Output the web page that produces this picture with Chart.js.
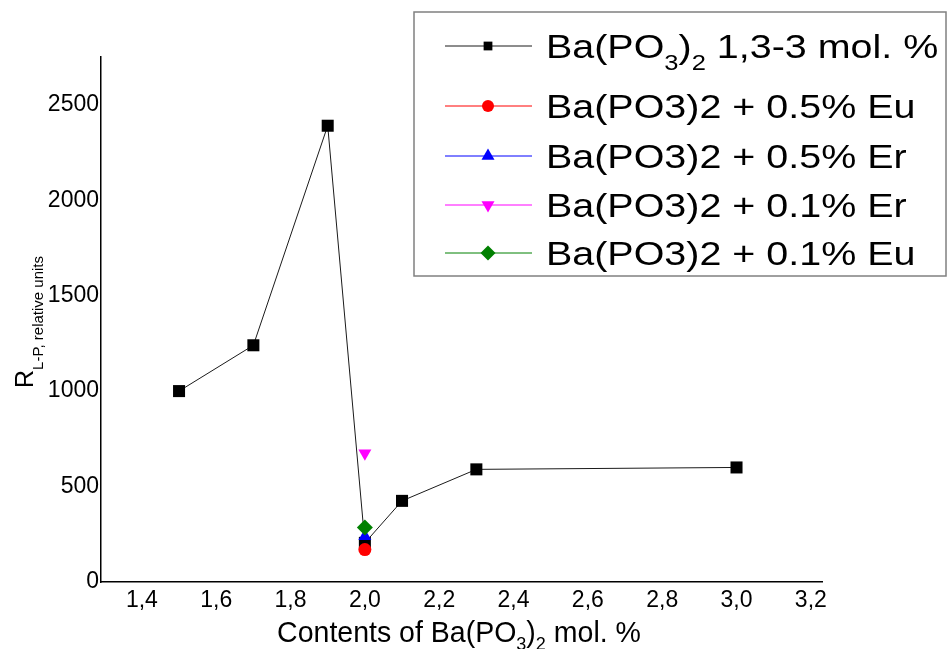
<!DOCTYPE html>
<html>
<head>
<meta charset="utf-8">
<script src="https://cdn.jsdelivr.net/npm/chart.js@4.4.1/dist/chart.umd.min.js"></script>
<style>html,body{margin:0;padding:0;background:#fff}</style>
</head>
<body>
<canvas id="chart" width="949" height="649"></canvas>
<script>
const xTicks = [1.4, 1.6, 1.8, 2.0, 2.2, 2.4, 2.6, 2.8, 3.0, 3.2];
const yTicks = [0, 500, 1000, 1500, 2000, 2500];

const baseX = [1.5, 1.7, 1.9, 2.0, 2.1, 2.3, 3.0];
const baseY = [1000, 1240, 2390, 205, 425, 590, 600];

const eu05 = [170];
const er05 = [240];
const er01 = [675];
const eu01 = [285];
const dopedX = 2.0;

const seriesLabels = [
    'Ba(PO_3)_2 1,3-3 mol. %',
    'Ba(PO3)2 + 0.5% Eu',
    'Ba(PO3)2 + 0.5% Er',
    'Ba(PO3)2 + 0.1% Er',
    'Ba(PO3)2 + 0.1% Eu'
];
const xTitle = 'Contents of Ba(PO_3)_2 mol. %';
const yTitle = 'R_{L-P, relative units}';

const FONT = '"Liberation Sans", Arial, sans-serif';

const markers = [
    { color: '#000000', style: 'rect', radius: 8.5, legendRadius: 6.2, rotation: 0 },
    { color: '#ff0000', style: 'circle', radius: 6.5, legendRadius: 6, rotation: 0 },
    { color: '#0000ff', style: 'triangle', radius: 7.5, legendRadius: 7.5, rotation: 0 },
    { color: '#ff00ff', style: 'triangle', radius: 7.5, legendRadius: 7.5, rotation: 180 },
    { color: '#008000', style: 'rectRot', radius: 8, legendRadius: 7.5, rotation: 0 }
];

function dataset(i, xs, ys, order) {
    const m = markers[i];
    return {
        label: seriesLabels[i],
        data: xs.map((x, k) => ({ x: x, y: ys[k] })),
        borderColor: i === 0 ? '#1a1a1a' : m.color,
        borderWidth: 1,
        backgroundColor: m.color,
        pointBackgroundColor: m.color,
        pointBorderColor: m.color,
        pointBorderWidth: 0,
        pointStyle: m.style,
        pointRadius: m.radius,
        pointRotation: m.rotation,
        showLine: true,
        order: order
    };
}

// split "Ba(PO_3)_2" style text into normal / subscript parts
function parseRich(text) {
    const parts = [];
    let i = 0;
    while (i < text.length) {
        if (text[i] === '_') {
            let sub;
            if (text[i + 1] === '{') {
                const end = text.indexOf('}', i);
                sub = text.slice(i + 2, end);
                i = end + 1;
            } else {
                sub = text[i + 1];
                i += 2;
            }
            parts.push({ t: sub, sub: true });
        } else {
            let j = i;
            while (j < text.length && text[j] !== '_') j++;
            parts.push({ t: text.slice(i, j), sub: false });
            i = j;
        }
    }
    return parts;
}

function richWidth(ctx, parts, size, subSize) {
    let w = 0;
    parts.forEach(p => {
        ctx.font = (p.sub ? subSize : size) + 'px ' + FONT;
        w += ctx.measureText(p.t).width;
    });
    return w;
}

// sx stretches the text horizontally
function drawRich(ctx, parts, x, y, size, subSize, subShift, sx) {
    ctx.save();
    ctx.translate(x, y);
    ctx.scale(sx || 1, 1);
    ctx.textBaseline = 'alphabetic';
    ctx.textAlign = 'left';
    let cx = 0;
    parts.forEach(p => {
        ctx.font = (p.sub ? subSize : size) + 'px ' + FONT;
        ctx.fillText(p.t, cx, p.sub ? subShift : 0);
        cx += ctx.measureText(p.t).width;
    });
    ctx.restore();
}

const decorPlugin = {
    id: 'decor',
    afterDraw(chart) {
        const ctx = chart.ctx;
        ctx.save();
        ctx.fillStyle = '#000';

        // x axis title
        const xp = parseRich(xTitle);
        const xs = 0.95;
        const xw = richWidth(ctx, xp, 30, 19) * xs;
        drawRich(ctx, xp, 459 - xw / 2, 642, 30, 19, 8, xs);

        // y axis title, rotated
        ctx.save();
        ctx.translate(33, 388);
        ctx.rotate(-Math.PI / 2);
        drawRich(ctx, parseRich(yTitle), 0, 0, 25, 15, 10);
        ctx.restore();

        // legend box
        ctx.fillStyle = '#fff';
        ctx.fillRect(414, 12, 532, 264);
        ctx.strokeStyle = '#808080';
        ctx.lineWidth = 1.5;
        ctx.strokeRect(414, 12, 532, 264);

        const rows = [46, 106, 156, 205, 253];
        seriesLabels.forEach((lab, i) => {
            const m = markers[i];
            const y = rows[i];
            ctx.strokeStyle = i === 0 ? '#1a1a1a' : m.color;
            ctx.lineWidth = 1;
            ctx.beginPath();
            ctx.moveTo(445, y);
            ctx.lineTo(532, y);
            ctx.stroke();
            ctx.fillStyle = m.color;
            Chart.helpers.drawPoint(ctx, {
                pointStyle: m.style,
                rotation: m.rotation,
                radius: m.legendRadius,
                borderWidth: 0
            }, 488, y);
            ctx.fillStyle = '#000';
            drawRich(ctx, parseRich(lab), 546, y + 12, 34, 22, 12, 1.16);
        });
        ctx.restore();
    }
};

const fmt = v => v.toFixed(1).replace('.', ',');

new Chart(document.getElementById('chart'), {
    type: 'scatter',
    data: {
        datasets: [
            dataset(0, baseX, baseY, 5),
            dataset(1, [dopedX], eu05, 4),
            dataset(2, [dopedX], er05, 3),
            dataset(3, [dopedX], er01, 2),
            dataset(4, [dopedX], eu01, 1)
        ]
    },
    options: {
        responsive: false,
        animation: false,
        layout: { padding: { left: 0, top: 57, right: 127, bottom: 0 } },
        plugins: {
            legend: { display: false },
            tooltip: { enabled: false }
        },
        scales: {
            x: {
                type: 'linear',
                min: 1.29,
                max: 3.23,
                grid: { display: false, drawTicks: false },
                border: { display: true, color: '#000', width: 1.5 },
                ticks: {
                    color: '#000',
                    font: { family: FONT, size: 23 },
                    padding: 5,
                    maxRotation: 0,
                    autoSkip: false,
                    callback: v => fmt(v)
                },
                afterBuildTicks: s => { s.ticks = xTicks.map(v => ({ value: v })); },
                afterFit: s => { s.height = 67; }
            },
            y: {
                type: 'linear',
                min: 0,
                max: 2750,
                grid: { display: false, drawTicks: false },
                border: { display: true, color: '#000', width: 1.5 },
                ticks: {
                    color: '#000',
                    font: { family: FONT, size: 23 },
                    padding: 2,
                    autoSkip: false,
                    callback: v => String(v)
                },
                afterBuildTicks: s => { s.ticks = yTicks.map(v => ({ value: v })); },
                afterFit: s => { s.width = 101; }
            }
        }
    },
    plugins: [decorPlugin]
});
</script>
</body>
</html>
